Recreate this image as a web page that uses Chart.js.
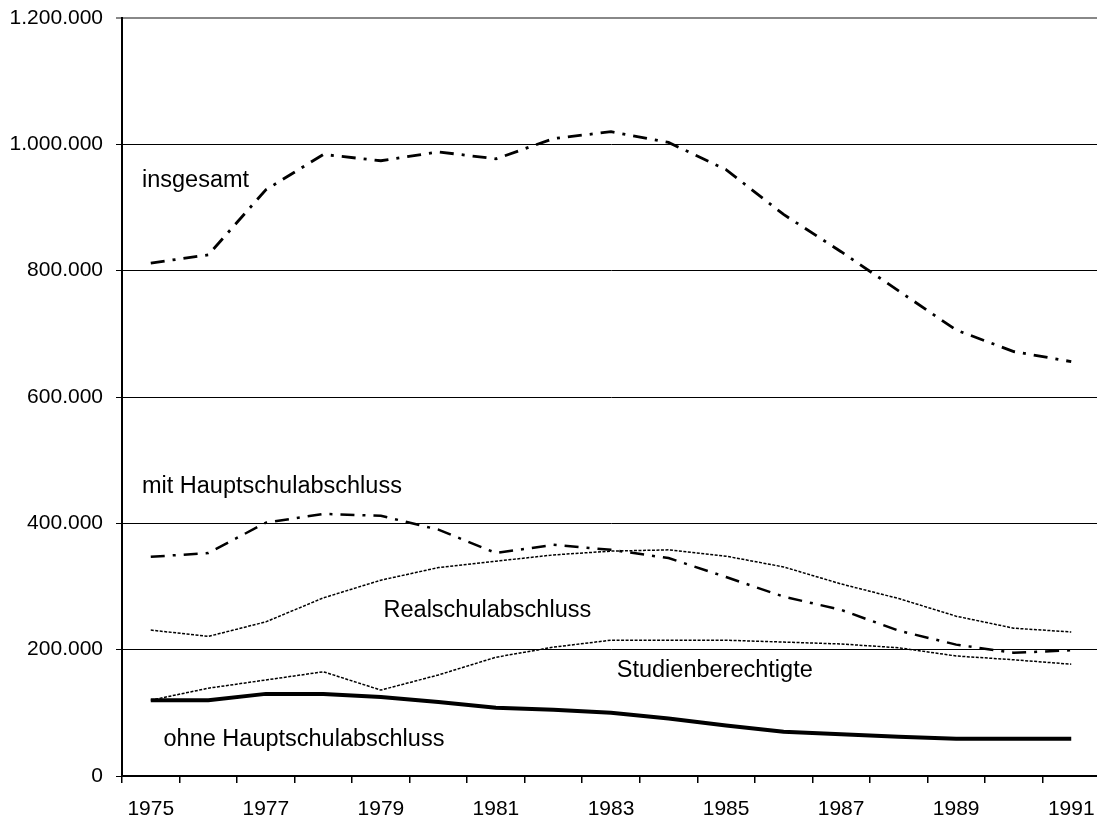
<!DOCTYPE html>
<html>
<head>
<meta charset="utf-8">
<style>
html,body{margin:0;padding:0;overflow:hidden;background:#fff;}
canvas{display:block;}
</style>
</head>
<body>
<canvas id="c" width="1100" height="821"></canvas>
<script src="https://cdn.jsdelivr.net/npm/chart.js@4/dist/chart.umd.min.js"></script>
<script>
const years = ['1975','1976','1977','1978','1979','1980','1981','1982','1983','1984','1985','1986','1987','1988','1989','1990','1991'];
const yTickLabels = ['0','200.000','400.000','600.000','800.000','1.000.000','1.200.000'];

const insgesamt = [812000, 825000, 928000, 984000, 974000, 988000, 977000, 1009000, 1020000, 1003000, 960000, 889000, 830000, 768000, 706000, 672000, 656000];
const mitHauptschulabschluss = [347000, 353000, 401000, 415000, 412000, 390000, 353000, 366000, 358000, 345000, 315000, 284000, 263000, 230000, 208000, 195000, 199000];
const realschulabschluss = [231000, 221000, 244000, 282000, 310000, 330000, 340000, 350000, 356000, 358000, 348000, 331000, 304000, 281000, 253000, 234000, 228000];
const studienberechtigte = [120000, 139000, 152000, 165000, 136000, 160000, 188000, 204000, 215000, 215000, 215000, 212000, 209000, 203000, 190000, 184000, 177000];
const ohneHauptschulabschluss = [120000, 120000, 130000, 130000, 125000, 117000, 108000, 105000, 100000, 91000, 80000, 70000, 66000, 62000, 59000, 59000, 59000];

// series name labels placed in data units (category index, value)
const seriesLabels = [
  {text: 'insgesamt', idx: -0.153, value: 933000},
  {text: 'mit Hauptschulabschluss', idx: -0.153, value: 448000},
  {text: 'Realschulabschluss', idx: 4.046, value: 252000},
  {text: 'Studienberechtigte', idx: 8.10, value: 157000},
  {text: 'ohne Hauptschulabschluss', idx: 0.222, value: 47500}
];

const FONT = '"Liberation Sans", Arial, sans-serif';

const labelPlugin = {
  id: 'seriesLabels',
  afterDatasetsDraw(chart) {
    const ctx = chart.ctx;
    const xs = chart.scales.x, ys = chart.scales.y;
    ctx.save();
    ctx.font = '23.5px ' + FONT;
    ctx.fillStyle = '#000';
    ctx.textAlign = 'left';
    ctx.textBaseline = 'alphabetic';
    seriesLabels.forEach(l => {
      ctx.fillText(l.text, xs.getPixelForValue(l.idx), ys.getPixelForValue(l.value));
    });
    ctx.restore();
  }
};

const common = {pointRadius: 0, pointHoverRadius: 0, tension: 0, fill: false, borderColor: '#000', borderCapStyle: 'butt'};

new Chart(document.getElementById('c'), {
  type: 'line',
  data: {
    labels: years,
    datasets: [
      Object.assign({label: 'insgesamt', data: insgesamt, borderWidth: 2.8, borderDash: [14, 8, 3, 8]}, common),
      Object.assign({label: 'mit Hauptschulabschluss', data: mitHauptschulabschluss, borderWidth: 2.5, borderDash: [14, 8, 3, 8]}, common),
      Object.assign({label: 'Realschulabschluss', data: realschulabschluss, borderWidth: 1.5, borderDash: [3, 1.5]}, common),
      Object.assign({label: 'Studienberechtigte', data: studienberechtigte, borderWidth: 1.5, borderDash: [3, 1.5]}, common),
      Object.assign({label: 'ohne Hauptschulabschluss', data: ohneHauptschulabschluss, borderWidth: 4}, common)
    ]
  },
  options: {
    responsive: false,
    animation: false,
    devicePixelRatio: 1,
    layout: {padding: {top: 18, right: 0, bottom: 0, left: 0}},
    plugins: {legend: {display: false}, tooltip: {enabled: false}, title: {display: false}},
    scales: {
      x: {
        type: 'category',
        offset: true,
        afterFit: s => { s.height = 45; s.paddingLeft = 0; s.paddingRight = 0; },
        grid: {display: true, drawOnChartArea: false, drawTicks: true, tickLength: 7, offset: true, color: '#000', lineWidth: 1.5},
        border: {display: true, color: '#000', width: 2},
        ticks: {
          autoSkip: false, maxRotation: 0, minRotation: 0, color: '#000', padding: 14,
          font: {family: FONT, size: 21},
          callback: (v, i) => (i % 2 === 0 ? years[i] : '')
        }
      },
      y: {
        min: 0, max: 1200000,
        afterFit: s => { s.width = 122; s.paddingTop = 0; s.paddingBottom = 0; },
        grid: {
          display: true, drawOnChartArea: true, drawTicks: true, tickLength: 6,
          color: c => (c.tick && c.tick.value === 1200000 ? '#888' : '#000'),
          lineWidth: c => (c.tick && c.tick.value === 1200000 ? 2 : 1)
        },
        border: {display: true, color: '#000', width: 2},
        ticks: {
          stepSize: 200000, color: '#000', padding: 13,
          font: {family: FONT, size: 21},
          callback: v => yTickLabels[Math.round(v / 200000)]
        }
      }
    }
  },
  plugins: [labelPlugin]
});
</script>
</body>
</html>
